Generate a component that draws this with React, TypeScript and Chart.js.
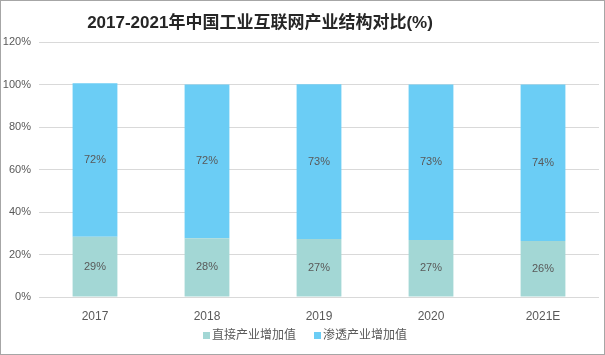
import React, { useEffect, useRef } from "react";
import { Chart, registerables } from "chart.js";

Chart.register(...registerables);

const title = "2017-2021年中国工业互联网产业结构对比(%)";
const categories = ["2017", "2018", "2019", "2020", "2021E"];
const directValues = [28.4, 27.6, 27.3, 26.8, 26.3];
const penetrationValues = [72.2, 72.4, 72.8, 73.2, 73.7];
const directLabels = ["29%", "28%", "27%", "27%", "26%"];
const penetrationLabels = ["72%", "72%", "73%", "73%", "74%"];
const seriesNames = ["直接产业增加值", "渗透产业增加值"];
const colors = ["#A3D7D5", "#6BCDF5"];

const FONT = '"Liberation Sans", "Noto Sans CJK SC", sans-serif';

export default function App() {
  const ref = useRef<HTMLCanvasElement>(null);
  useEffect(() => {
    document.body.style.margin = "0";
    const labelsBySeries = [directLabels, penetrationLabels];
    const custom = {
      id: "custom",
      beforeDraw(chart: any) {
        const ctx = chart.ctx;
        ctx.save();
        ctx.fillStyle = "#ffffff";
        ctx.fillRect(0, 0, chart.width, chart.height);
        ctx.restore();
      },
      afterDatasetsDraw(chart: any) {
        const ctx = chart.ctx;
        ctx.save();
        ctx.font = `11px ${FONT}`;
        ctx.fillStyle = "#595959";
        ctx.textAlign = "center";
        ctx.textBaseline = "middle";
        chart.data.datasets.forEach((_: any, di: number) => {
          const meta = chart.getDatasetMeta(di);
          meta.data.forEach((el: any, i: number) => {
            const y = (el.y + el.base) / 2;
            ctx.fillText(labelsBySeries[di][i], el.x, y);
          });
        });
        ctx.restore();
      },
      afterDraw(chart: any) {
        const ctx = chart.ctx;
        ctx.save();
        // title
        ctx.font = `bold 17px ${FONT}`;
        ctx.fillStyle = "#262626";
        ctx.textAlign = "center";
        ctx.textBaseline = "middle";
        ctx.fillText(title, 260, 23);
        // legend
        ctx.font = `12px ${FONT}`;
        ctx.textAlign = "left";
        let x = 203;
        const ly = 336;
        seriesNames.forEach((name, i) => {
          ctx.fillStyle = colors[i];
          ctx.fillRect(x, ly - 4, 7, 7);
          ctx.fillStyle = "#595959";
          ctx.fillText(name, x + 9, ly);
          x += 9 + ctx.measureText(name).width + 18;
        });
        // border
        ctx.strokeStyle = "#a6a6a6";
        ctx.lineWidth = 1;
        ctx.strokeRect(0.5, 0.5, chart.width - 1, chart.height - 1);
        ctx.restore();
      },
    };
    const chart = new Chart(ref.current!, {
      type: "bar",
      data: {
        labels: categories,
        datasets: [
          { label: seriesNames[0], data: directValues, backgroundColor: colors[0], barPercentage: 0.4, categoryPercentage: 1 },
          { label: seriesNames[1], data: penetrationValues, backgroundColor: colors[1], barPercentage: 0.4, categoryPercentage: 1 },
        ],
      },
      options: {
        responsive: false,
        animation: false,
        layout: { padding: { top: 42, right: 6, left: 0, bottom: 0 } },
        plugins: {
          legend: { display: false },
          title: { display: false },
          tooltip: { enabled: false },
        },
        scales: {
          x: {
            stacked: true,
            grid: { display: false, drawTicks: false },
            border: { display: false },
            ticks: { color: "#595959", font: { size: 12, family: FONT }, padding: 12 },
            afterFit(scale: any) { scale.height = 58; },
          },
          y: {
            stacked: true,
            min: 0,
            max: 120,
            grid: { color: "#d9d9d9", drawTicks: false },
            border: { display: false },
            ticks: {
              stepSize: 20,
              color: "#595959",
              font: { size: 11, family: FONT },
              padding: 8,
              callback: (v: any) => `${v}%`,
            },
            afterFit(scale: any) { scale.width = 39; },
          },
        },
      },
      plugins: [custom],
    });
    return () => chart.destroy();
  }, []);
  return <canvas ref={ref} width={605} height={355} style={{ display: "block" }} />;
}
